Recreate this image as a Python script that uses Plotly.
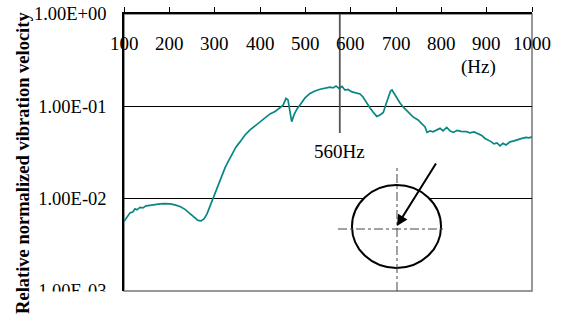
import plotly.graph_objects as go

# ---- data ----
freq = [100, 106.6, 113.2, 119.9, 124.3, 128.7, 135.3, 141.9, 148.5, 157.4, 168.4, 179.4,
        190.4, 201.5, 212.5, 223.5, 234.6, 245.6, 256.6, 263.2, 269.9, 276.5, 283.1, 289.7,
        296.3, 302.9, 309.6, 316.2, 322.8, 329.4, 338.2, 347.1, 355.9, 366.9, 378.0, 389.0,
        400.0, 411.0, 422.1, 433.1, 444.1, 450.7, 457.4, 461.8, 466.2, 469.9, 475.0, 481.6,
        488.2, 499.3, 510.3, 521.3, 532.4, 543.4, 554.4, 561.0, 567.6, 574.3, 580.9, 587.5,
        594.1, 603.0, 611.8, 620.6, 627.2, 635.4, 642.8, 649.3, 657.5, 664.7, 672.0, 678.0,
        683.1, 687.9, 691.2, 695.6, 702.3, 708.9, 717.7, 726.5, 737.6, 748.6, 757.4, 764.0,
        768.5, 775.1, 781.7, 789.8, 797.1, 803.7, 811.8, 819.1, 826.4, 834.6, 843.4, 856.0,
        863.2, 872.1, 880.9, 889.1, 896.3, 903.0, 909.6, 916.2, 922.8, 929.4, 936.0, 942.7,
        951.5, 960.3, 969.1, 977.9, 986.8, 993.4, 1000]
velocity = [0.00565, 0.00635, 0.00702, 0.0072, 0.00776, 0.00757, 0.00805, 0.00794, 0.00835,
            0.00846, 0.00867, 0.00879, 0.00883, 0.00879, 0.00857, 0.00822, 0.00766, 0.00693,
            0.00620, 0.00582, 0.00575, 0.00604, 0.00684, 0.00835, 0.00982, 0.01186, 0.01483,
            0.01766, 0.02155, 0.0250, 0.0305, 0.0364, 0.0412, 0.0490, 0.0555, 0.0614, 0.0678,
            0.0740, 0.0828, 0.0881, 0.0962, 0.1023, 0.1218, 0.1173, 0.0869, 0.0683, 0.0807,
            0.0937, 0.1036, 0.1233, 0.1379, 0.1468, 0.1531, 0.1563, 0.1610, 0.1582, 0.1663,
            0.1563, 0.1643, 0.1504, 0.1523, 0.1432, 0.1396, 0.1362, 0.1264, 0.1081, 0.0961,
            0.0870, 0.0778, 0.0807, 0.0859, 0.1062, 0.1280, 0.1468, 0.1504, 0.1379, 0.1233,
            0.1088, 0.0961, 0.0870, 0.0768, 0.0713, 0.0653, 0.0598, 0.0522, 0.0542, 0.0529,
            0.0555, 0.0577, 0.0542, 0.0591, 0.0542, 0.0522, 0.0548, 0.0535, 0.0532, 0.0515,
            0.0529, 0.0509, 0.0484, 0.0449, 0.0433, 0.0415, 0.0392, 0.0402, 0.0373, 0.0397,
            0.0382, 0.0412, 0.0422, 0.0438, 0.0449, 0.0461, 0.0455, 0.0467]

x_ticks = [100, 200, 300, 400, 500, 600, 700, 800, 900, 1000]
x_tick_labels = ["100", "200", "300", "400", "500", "600", "700", "800", "900", "1000"]
y_ticks = [1, 0.1, 0.01, 0.001]
y_tick_labels = ["1.00E+00", "1.00E-01", "1.00E-02", "1.00E-03"]

marker_freq = [576, 576]
marker_vel = [0.0514, 1.0]
marker_label = "560Hz"
unit_label = "(Hz)"
y_title = "Relative normalized vibration velocity"

SERIF = "Liberation Serif, Times New Roman, serif"

fig = go.Figure()
fig.add_trace(go.Scatter(x=freq, y=velocity, mode="lines",
                         line=dict(color="#078783", width=1.7), showlegend=False))
fig.add_trace(go.Scatter(x=marker_freq, y=marker_vel, mode="lines",
                         line=dict(color="#555555", width=1.8), showlegend=False))

annotations = []
for xv, lab in zip(x_ticks, x_tick_labels):
    annotations.append(dict(x=xv, xref="x", y=0.8917, yref="paper", text=lab,
                            showarrow=False, font=dict(family=SERIF, size=19, color="black"),
                            xanchor="center", yanchor="middle"))
annotations.append(dict(x=883, xref="x", y=0.807, yref="paper", text=unit_label,
                        showarrow=False, font=dict(family=SERIF, size=19, color="black"),
                        xanchor="center", yanchor="middle"))
annotations.append(dict(x=marker_freq[0], xref="x", y=0.503, yref="paper", text=marker_label,
                        showarrow=False, font=dict(family=SERIF, size=19, color="black"),
                        xanchor="center", yanchor="middle"))
annotations.append(dict(x=-0.246, xref="paper", y=0.461, yref="paper", text="<b>" + y_title + "</b>",
                        textangle=-90, showarrow=False,
                        font=dict(family=SERIF, size=18.5, color="black"),
                        xanchor="center", yanchor="middle"))
annotations.append(dict(x=702, xref="x", y=0.2347, yref="paper", text="",
                        showarrow=True, ax=40, ay=-64, axref="pixel", ayref="pixel",
                        arrowhead=2, arrowsize=1.1, arrowwidth=2, arrowcolor="black", standoff=0))

shapes = [
    dict(type="rect", xref="paper", yref="paper", x0=0, x1=1, y0=0, y1=1,
         line=dict(color="#777777", width=1.5), layer="below"),
    dict(type="circle", xref="paper", yref="paper", x0=0.5588, x1=0.777, y0=0.0830, y1=0.3827,
         line=dict(color="black", width=2), fillcolor="white", layer="above"),
    dict(type="line", xref="paper", yref="paper", x0=0.5245, x1=0.7819, y0=0.2238, y1=0.2238,
         line=dict(color="#444444", width=1, dash="dashdot"), layer="above"),
    dict(type="line", xref="paper", yref="paper", x0=0.6691, x1=0.6691, y0=0.0, y1=0.444,
         line=dict(color="#444444", width=1, dash="dashdot"), layer="above"),
    # crop at the bottom edge as in the reference
    dict(type="rect", xref="paper", yref="paper", x0=-0.21, x1=-0.004, y0=-0.11, y1=-0.002,
         line=dict(width=0), fillcolor="white", layer="above"),
]

fig.update_layout(
    template="none",
    width=562, height=320, autosize=False,
    margin=dict(l=124, r=30, t=14, b=29, pad=0),
    paper_bgcolor="white", plot_bgcolor="white",
    font=dict(family=SERIF, color="black"),
    xaxis=dict(side="top", range=[100, 1000], tickvals=x_ticks, showticklabels=False,
               ticks="outside", ticklen=5, tickcolor="black", tickwidth=1, automargin=False,
               showgrid=False, zeroline=False, showline=True, linecolor="black", linewidth=1.5),
    yaxis=dict(type="log", range=[-3, 0], tickvals=y_ticks, ticktext=y_tick_labels,
               tickfont=dict(family=SERIF, size=18.5, color="black"), ticks="",
               ticklabelstandoff=12, automargin=False,
               showgrid=True, gridcolor="black", gridwidth=1, zeroline=False,
               showline=True, linecolor="black", linewidth=1.5),
    annotations=annotations,
    shapes=shapes,
)

fig.write_html("out.html")
